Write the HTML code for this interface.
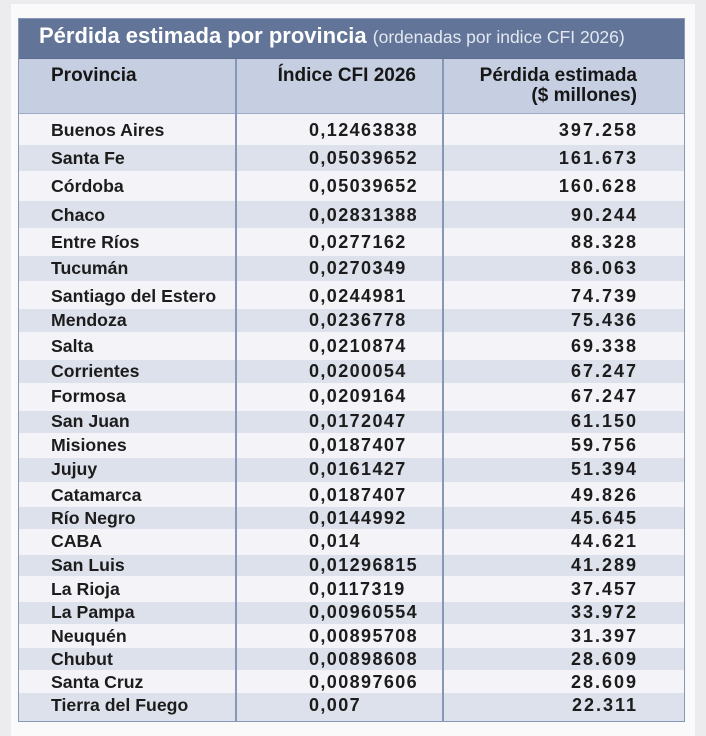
<!DOCTYPE html>
<html>
<head>
<meta charset="utf-8">
<style>
  html,body{margin:0;padding:0;}
  body{width:706px;height:736px;background:#ececef;position:relative;overflow:hidden;
       font-family:"Liberation Sans",Arial,sans-serif;color:#1c1c1c;}
  .panel{position:absolute;left:11px;top:4px;width:684px;height:732px;background:#fafafb;}
  .title{position:absolute;left:18px;top:18px;width:666px;height:41px;background:#627598;}
  .ttext{position:absolute;left:39px;top:23px;line-height:26px;white-space:nowrap;color:#fff;
         font-size:22px;font-weight:bold;}
  .ttext span{font-weight:normal;font-size:17.5px;color:#e3e8f2;}
  .head{position:absolute;left:18px;top:59px;width:666px;height:55px;background:#c6cfe1;}
  .band{position:absolute;left:18px;width:666px;}
  .w{background:#f4f4f8;}
  .g{background:#dde1eb;}
  .frame{position:absolute;left:18px;top:18px;width:665px;height:702px;border:1.5px solid #8797b8;box-sizing:content-box;}
  .vl{position:absolute;top:59px;height:662px;width:1.5px;background:#8797b8;}
  .hl{position:absolute;left:18px;width:666px;height:1px;background:#9eabc6;}
  .h{position:absolute;font-size:19px;font-weight:bold;line-height:20px;white-space:nowrap;color:#161616;}
  .n{position:absolute;left:51px;font-size:17.7px;font-weight:bold;line-height:20px;white-space:nowrap;}
  .c2{position:absolute;left:309px;font-size:18px;font-weight:bold;line-height:20px;letter-spacing:1.4px;white-space:nowrap;}
  .c3{position:absolute;right:68px;font-size:18px;font-weight:bold;line-height:20px;letter-spacing:2px;white-space:nowrap;text-align:right;}
</style>
</head>
<body>
<div class="panel"></div>
<div class="title"></div>
<div class="head"></div>

<div class="band w" style="top:114px;height:31px"></div>
<div class="band g" style="top:145px;height:26px"></div>
<div class="band w" style="top:171px;height:30px"></div>
<div class="band g" style="top:201px;height:27px"></div>
<div class="band w" style="top:228px;height:28px"></div>
<div class="band g" style="top:256px;height:25px"></div>
<div class="band w" style="top:281px;height:28px"></div>
<div class="band g" style="top:309px;height:23px"></div>
<div class="band w" style="top:332px;height:28px"></div>
<div class="band g" style="top:360px;height:23px"></div>
<div class="band w" style="top:383px;height:28px"></div>
<div class="band g" style="top:411px;height:22px"></div>
<div class="band w" style="top:433px;height:25px"></div>
<div class="band g" style="top:458px;height:24px"></div>
<div class="band w" style="top:482px;height:25px"></div>
<div class="band g" style="top:507px;height:22px"></div>
<div class="band w" style="top:529px;height:26px"></div>
<div class="band g" style="top:555px;height:21px"></div>
<div class="band w" style="top:576px;height:26px"></div>
<div class="band g" style="top:602px;height:22px"></div>
<div class="band w" style="top:624px;height:24px"></div>
<div class="band g" style="top:648px;height:22px"></div>
<div class="band w" style="top:670px;height:23px"></div>
<div class="band g" style="top:693px;height:28px"></div>

<div class="hl" style="top:58px;background:#5a6c90"></div>
<div class="hl" style="top:113px"></div>
<div class="vl" style="left:235px"></div>
<div class="vl" style="left:442px"></div>
<div class="frame"></div>

<div class="ttext">Pérdida estimada por provincia <span>(ordenadas por indice CFI 2026)</span></div>

<div class="h" style="left:51px;top:66.4px">Provincia</div>
<div class="h" style="right:290px;top:66.4px;text-align:right">Índice CFI 2026</div>
<div class="h" style="right:69px;top:66.4px;text-align:right">Pérdida estimada<br>($ millones)</div>

<div class="n" style="top:120px">Buenos Aires</div><div class="c2" style="top:120px">0,12463838</div><div class="c3" style="top:120px">397.258</div>
<div class="n" style="top:148px">Santa Fe</div><div class="c2" style="top:148px">0,05039652</div><div class="c3" style="top:148px">161.673</div>
<div class="n" style="top:176px">Córdoba</div><div class="c2" style="top:176px">0,05039652</div><div class="c3" style="top:176px">160.628</div>
<div class="n" style="top:205px">Chaco</div><div class="c2" style="top:205px">0,02831388</div><div class="c3" style="top:205px">90.244</div>
<div class="n" style="top:232px">Entre Ríos</div><div class="c2" style="top:232px">0,0277162</div><div class="c3" style="top:232px">88.328</div>
<div class="n" style="top:258px">Tucumán</div><div class="c2" style="top:258px">0,0270349</div><div class="c3" style="top:258px">86.063</div>
<div class="n" style="top:286px">Santiago del Estero</div><div class="c2" style="top:286px">0,0244981</div><div class="c3" style="top:286px">74.739</div>
<div class="n" style="top:310px">Mendoza</div><div class="c2" style="top:310px">0,0236778</div><div class="c3" style="top:310px">75.436</div>
<div class="n" style="top:336px">Salta</div><div class="c2" style="top:336px">0,0210874</div><div class="c3" style="top:336px">69.338</div>
<div class="n" style="top:361px">Corrientes</div><div class="c2" style="top:361px">0,0200054</div><div class="c3" style="top:361px">67.247</div>
<div class="n" style="top:386px">Formosa</div><div class="c2" style="top:386px">0,0209164</div><div class="c3" style="top:386px">67.247</div>
<div class="n" style="top:411px">San Juan</div><div class="c2" style="top:411px">0,0172047</div><div class="c3" style="top:411px">61.150</div>
<div class="n" style="top:435px">Misiones</div><div class="c2" style="top:435px">0,0187407</div><div class="c3" style="top:435px">59.756</div>
<div class="n" style="top:459px">Jujuy</div><div class="c2" style="top:459px">0,0161427</div><div class="c3" style="top:459px">51.394</div>
<div class="n" style="top:485px">Catamarca</div><div class="c2" style="top:485px">0,0187407</div><div class="c3" style="top:485px">49.826</div>
<div class="n" style="top:508px">Río Negro</div><div class="c2" style="top:508px">0,0144992</div><div class="c3" style="top:508px">45.645</div>
<div class="n" style="top:531px">CABA</div><div class="c2" style="top:531px">0,014</div><div class="c3" style="top:531px">44.621</div>
<div class="n" style="top:555px">San Luis</div><div class="c2" style="top:555px">0,01296815</div><div class="c3" style="top:555px">41.289</div>
<div class="n" style="top:579px">La Rioja</div><div class="c2" style="top:579px">0,0117319</div><div class="c3" style="top:579px">37.457</div>
<div class="n" style="top:602px">La Pampa</div><div class="c2" style="top:602px">0,00960554</div><div class="c3" style="top:602px">33.972</div>
<div class="n" style="top:626px">Neuquén</div><div class="c2" style="top:626px">0,00895708</div><div class="c3" style="top:626px">31.397</div>
<div class="n" style="top:649px">Chubut</div><div class="c2" style="top:649px">0,00898608</div><div class="c3" style="top:649px">28.609</div>
<div class="n" style="top:672px">Santa Cruz</div><div class="c2" style="top:672px">0,00897606</div><div class="c3" style="top:672px">28.609</div>
<div class="n" style="top:695px">Tierra del Fuego</div><div class="c2" style="top:695px">0,007</div><div class="c3" style="top:695px">22.311</div>

</body>
</html>
